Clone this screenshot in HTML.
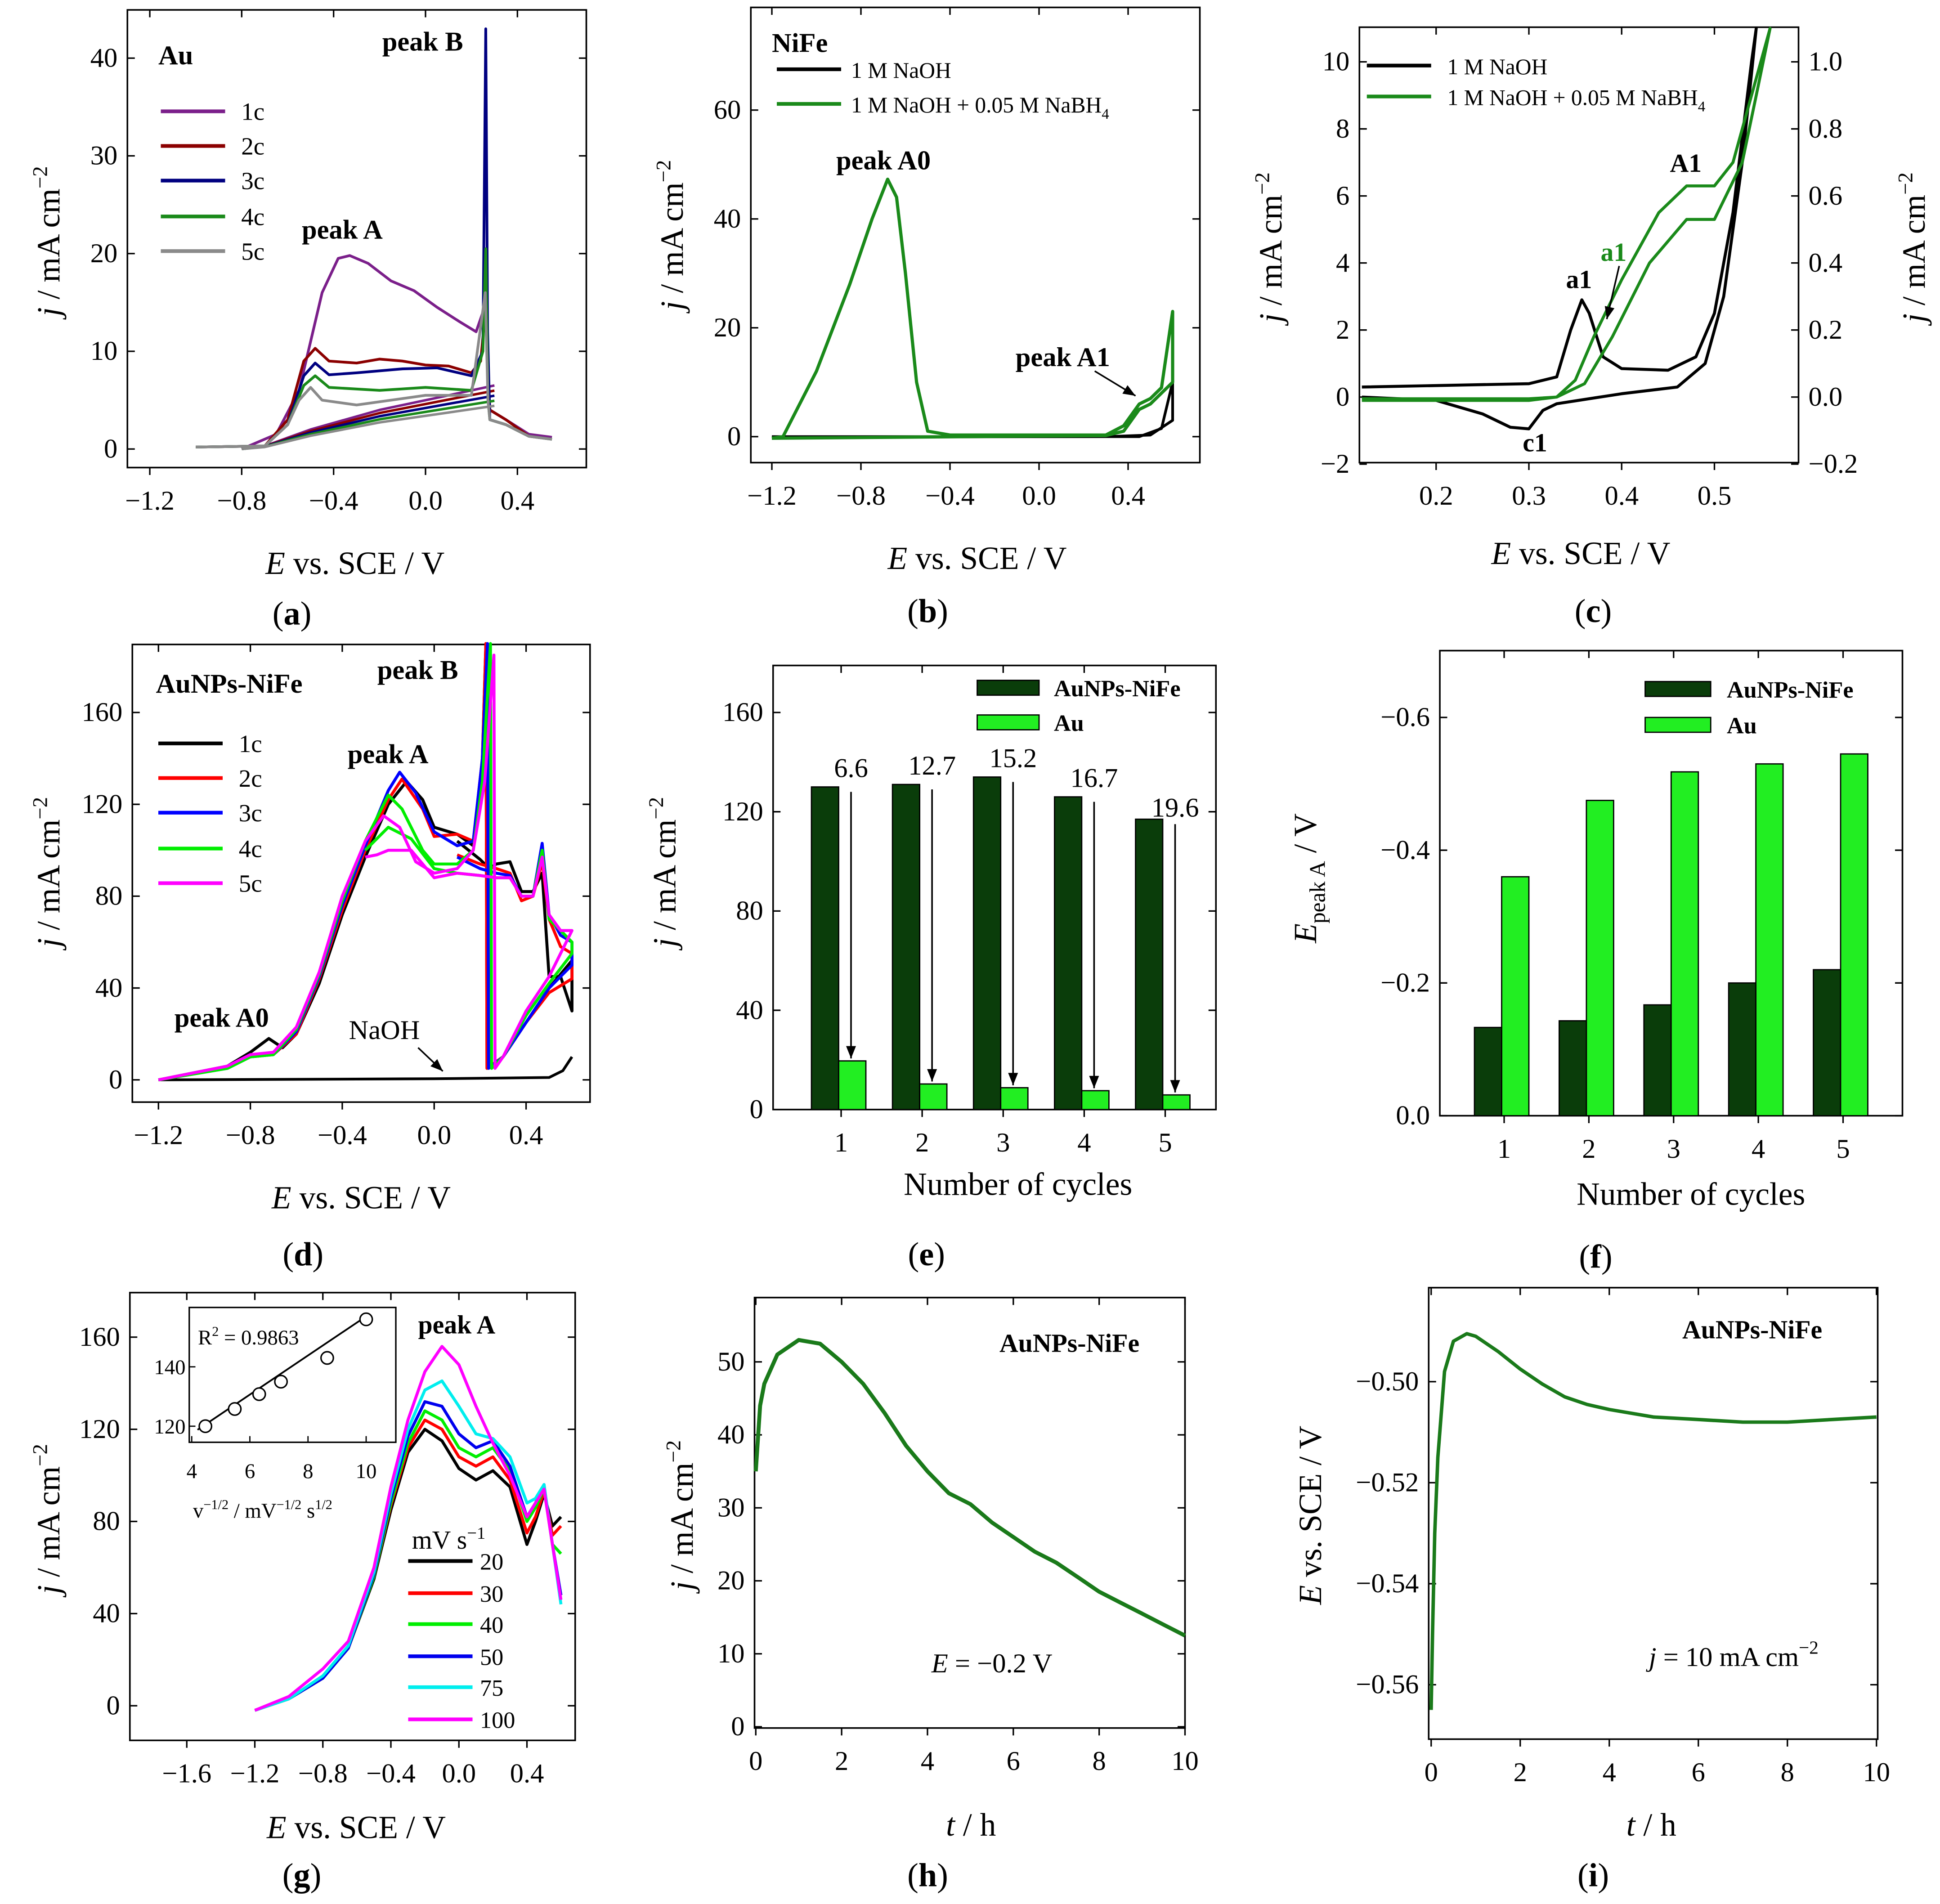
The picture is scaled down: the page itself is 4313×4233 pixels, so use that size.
<!DOCTYPE html>
<html><head><meta charset="utf-8"><style>
html,body{margin:0;padding:0;background:#fff;}
svg{display:block;font-family:"Liberation Serif",serif;}
</style></head><body>
<svg id="fig" xmlns="http://www.w3.org/2000/svg" width="4313" height="4233" viewBox="0 0 1568.36 1539.27"></svg>
<script>
// ===== DATA =====
const aC1=[[-0.8,0],[-0.65,1.5],[-0.55,6],[-0.5,11],[-0.45,16],[-0.38,19.5],[-0.33,19.8],[-0.25,19],[-0.15,17.2],[-0.05,16.2],[0.05,14.5],[0.15,13],[0.22,12],[0.25,14],[0.262,16.5],[0.272,8],[0.28,4],[0.35,3],[0.45,1.5],[0.55,1.2]];
const aC2=[[-1.0,0.2],[-0.7,0.3],[-0.6,3],[-0.53,9],[-0.48,10.3],[-0.42,9],[-0.3,8.8],[-0.2,9.2],[-0.1,9],[0,8.6],[0.1,8.5],[0.2,7.8],[0.24,9],[0.26,14],[0.27,9],[0.28,4],[0.35,3],[0.45,1.3],[0.55,1]];
const aC3=[[-1.0,0.2],[-0.7,0.3],[-0.6,2.5],[-0.53,7.5],[-0.48,8.8],[-0.42,7.6],[-0.3,7.8],[-0.1,8.2],[0.05,8.3],[0.2,7.5],[0.25,10],[0.262,43],[0.27,12],[0.28,3],[0.35,2.5],[0.45,1.3],[0.55,1]];
const aC4=[[-1.0,0.2],[-0.7,0.3],[-0.6,2.5],[-0.53,6.5],[-0.48,7.5],[-0.42,6.3],[-0.2,6],[0,6.3],[0.2,6],[0.25,10],[0.262,20.5],[0.272,5],[0.28,3],[0.35,2.5],[0.45,1.3],[0.55,1]];
const aC5=[[-1.0,0.2],[-0.7,0.3],[-0.6,2.5],[-0.55,5],[-0.5,6.3],[-0.45,5],[-0.3,4.5],[0,5.5],[0.2,5.5],[0.26,16],[0.272,5],[0.28,3],[0.35,2.5],[0.45,1.3],[0.55,1]];
const aRev=[[0.3,6.5],[0.1,5.5],[-0.2,4],[-0.5,2],[-0.7,0.3],[-0.8,0]];
const bGreen=[[-1.2,-0.3],[-1.15,0],[-1.0,12],[-0.85,28],[-0.75,40],[-0.68,47.3],[-0.64,44],[-0.6,30],[-0.55,10],[-0.5,1],[-0.4,0.3],[0.3,0.3],[0.38,2],[0.45,6],[0.5,7],[0.55,9],[0.6,23],[0.6,10],[0.5,6],[0.45,5],[0.38,1],[0.3,0.2],[-1.2,-0.3]];
const bBlack=[[-1.2,0],[0.45,0],[0.55,1.5],[0.6,10],[0.6,3],[0.5,0.3],[0.3,0],[-1.2,-0.1]];
const cBlack=[[0.12,0.3],[0.3,0.4],[0.33,0.6],[0.345,2],[0.357,2.9],[0.365,2.5],[0.38,1.2],[0.4,0.85],[0.45,0.8],[0.48,1.2],[0.5,2.5],[0.52,5.5],[0.54,10],[0.545,11],[0.53,7],[0.51,3],[0.49,1],[0.46,0.3],[0.4,0.1],[0.33,-0.2],[0.315,-0.4],[0.3,-0.95],[0.28,-0.9],[0.25,-0.5],[0.2,-0.1],[0.12,0]];
const cGreen=[[0.12,-0.05],[0.3,-0.05],[0.33,0],[0.35,0.5],[0.37,1.8],[0.4,3.5],[0.44,5.5],[0.47,6.3],[0.5,6.3],[0.52,7],[0.54,9],[0.56,11],[0.545,9],[0.53,7],[0.5,5.3],[0.47,5.3],[0.43,4],[0.39,1.8],[0.36,0.4],[0.33,0],[0.3,-0.1],[0.12,-0.1]];
const dC1=[[-1.2,0],[-0.9,6],[-0.8,12],[-0.72,18],[-0.66,14],[-0.6,20],[-0.5,42],[-0.4,72],[-0.3,97],[-0.2,120],[-0.12,130],[-0.05,122],[0,110],[0.1,107],[0.17,102],[0.21,140],[0.225,190],[0.23,5],[0.3,10],[0.4,25],[0.5,40],[0.6,52],[0.6,30],[0.55,45],[0.5,45],[0.47,90],[0.43,82],[0.38,82],[0.33,95],[0.27,94],[0.24,92],[0.2,96],[0.1,104]];
const dC2=[[-1.2,0],[-0.9,5],[-0.8,10],[-0.7,11],[-0.6,20],[-0.5,44],[-0.4,74],[-0.3,100],[-0.2,122],[-0.14,131],[-0.05,118],[0,106],[0.1,107],[0.17,104],[0.21,140],[0.225,190],[0.23,5],[0.3,10],[0.4,25],[0.5,38],[0.6,44],[0.6,55],[0.55,58],[0.5,70],[0.47,95],[0.43,80],[0.38,78],[0.33,90],[0.27,92],[0.2,94],[0.1,98]];
const dC3=[[-1.2,0],[-0.9,5],[-0.8,10],[-0.7,11],[-0.6,21],[-0.5,45],[-0.4,76],[-0.3,102],[-0.2,126],[-0.15,134],[-0.08,125],[0,108],[0.1,102],[0.17,104],[0.21,140],[0.232,190],[0.237,5],[0.3,10],[0.4,25],[0.5,40],[0.6,50],[0.6,60],[0.55,63],[0.5,72],[0.47,103],[0.43,80],[0.38,80],[0.33,89],[0.27,90],[0.2,92],[0.1,97]];
const dC4=[[-1.2,0],[-0.9,5],[-0.8,10],[-0.7,11],[-0.6,22],[-0.5,46],[-0.4,78],[-0.3,104],[-0.2,124],[-0.14,118],[-0.05,100],[0,94],[0.1,94],[0.17,100],[0.21,130],[0.245,190],[0.25,5],[0.3,10],[0.4,28],[0.5,42],[0.6,55],[0.6,60],[0.55,65],[0.5,70],[0.47,100],[0.43,80],[0.38,80],[0.33,88],[0.27,88],[0.2,89],[0.1,90],[0,92],[-0.1,105],[-0.2,110],[-0.3,100]];
const dC5=[[-1.2,0],[-0.9,6],[-0.8,11],[-0.7,12],[-0.6,23],[-0.5,47],[-0.4,80],[-0.3,104],[-0.22,115],[-0.15,110],[-0.08,95],[0,90],[0.1,92],[0.17,100],[0.22,130],[0.26,185],[0.265,5],[0.3,10],[0.4,30],[0.5,45],[0.6,65],[0.6,65],[0.55,65],[0.5,72],[0.47,97],[0.43,80],[0.38,80],[0.33,88],[0.27,88],[0.2,89],[0.1,90],[0,88],[-0.1,100],[-0.2,100],[-0.25,98],[-0.3,97]];
const dNaOH=[[-1.2,0],[0.0,0.5],[0.5,1],[0.56,4],[0.6,10]];
const eCats=['1','2','3','4','5'];
const eNiFe=[130,131,134,126,117];
const eAu=[19.6,10.3,8.8,7.6,5.9];
const eRatio=['6.6','12.7','15.2','16.7','19.6'];
const fCats=['1','2','3','4','5'];
const fNiFe=[-0.133,-0.143,-0.167,-0.2,-0.22];
const fAu=[-0.36,-0.475,-0.518,-0.53,-0.545];
const gRates=['20','30','40','50','75','100'];
const gColors=['#000','#f00','#0e0','#00e','#0ee','#f0f'];
const g20=[[-1.2,-2],[-1.0,3],[-0.8,12],[-0.65,25],[-0.5,55],[-0.4,85],[-0.3,110],[-0.2,120],[-0.1,115],[0,103],[0.1,98],[0.2,102],[0.3,95],[0.4,70],[0.45,80],[0.5,92],[0.55,78],[0.6,82]];
const g30=[[-1.2,-2],[-1.0,3],[-0.8,12],[-0.65,25],[-0.5,56],[-0.4,87],[-0.3,112],[-0.2,124],[-0.1,120],[0,108],[0.1,104],[0.2,108],[0.3,98],[0.4,75],[0.45,82],[0.5,93],[0.55,74],[0.6,78]];
const g40=[[-1.2,-2],[-1.0,3],[-0.8,12],[-0.65,25],[-0.5,56],[-0.4,88],[-0.3,114],[-0.2,128],[-0.1,124],[0,112],[0.1,108],[0.2,112],[0.3,102],[0.4,80],[0.45,86],[0.5,94],[0.55,70],[0.6,66]];
const g50=[[-1.2,-2],[-1.0,3],[-0.8,12],[-0.65,25],[-0.5,57],[-0.4,90],[-0.3,117],[-0.2,132],[-0.1,130],[0,118],[0.1,112],[0.2,115],[0.3,104],[0.4,82],[0.45,88],[0.5,96],[0.55,70],[0.6,48]];
const g75=[[-1.2,-2],[-1.0,3],[-0.8,13],[-0.65,26],[-0.5,58],[-0.4,92],[-0.3,120],[-0.2,137],[-0.1,141],[0,130],[0.1,118],[0.2,116],[0.3,108],[0.4,88],[0.45,90],[0.5,96],[0.55,70],[0.6,44]];
const g100=[[-1.2,-2],[-1.0,4],[-0.8,16],[-0.65,28],[-0.5,60],[-0.4,95],[-0.3,124],[-0.2,145],[-0.1,156],[0,148],[0.1,130],[0.2,114],[0.3,100],[0.4,82],[0.45,88],[0.5,94],[0.55,70],[0.6,46]];
const gInsetX=[4.47,5.48,6.32,7.07,8.66,10.0];
const gInsetY=[120,125.8,130.8,135,143,156];
const hT=[0,0.1,0.2,0.5,1,1.5,2,2.5,3,3.5,4,4.5,5,5.5,6,6.5,7,7.5,8,8.5,9,9.5,10];
const hJ=[35,44,47,51,53,52.5,50,47,43,38.5,35,32,30.5,28,26,24,22.5,20.5,18.5,17,15.5,14,12.5];
const iT=[0,0.03,0.08,0.15,0.3,0.5,0.8,1,1.5,2,2.5,3,3.5,4,5,6,7,8,9,10];
const iE=[-0.565,-0.55,-0.53,-0.515,-0.498,-0.492,-0.4905,-0.491,-0.494,-0.4975,-0.5005,-0.503,-0.5045,-0.5055,-0.507,-0.5075,-0.508,-0.508,-0.5075,-0.507];

// ===== HELPERS =====
const NS='http://www.w3.org/2000/svg';
const svg=document.getElementById('fig');
function E(tag,a,p){const e=document.createElementNS(NS,tag);for(const k in a)e.setAttribute(k,a[k]);(p||svg).appendChild(e);return e;}
function lin(d0,d1,p0,p1){return v=>p0+(v-d0)*(p1-p0)/(d1-d0);}
function fmt(v,d){const s=Math.abs(v).toFixed(d);return (v<-1e-9?'\u2212':'')+s;}
function txt(x,y,s,size,anchor,weight,fill){const t=E('text',{x:x,y:y,'font-size':size,'text-anchor':anchor||'start','font-weight':weight||'normal',fill:fill||'#000'});t.textContent=s;return t;}
function axes(P){
  const [x0,y0,x1,y1]=P.box;
  const g=E('g',{});
  
  
  E('rect',{x:x0,y:y0,width:x1-x0,height:y1-y0,fill:'none',stroke:'#000','stroke-width':1.3},g);
  (P.xticks||[]).forEach(v=>{const x=P.xs(v);
    E('line',{x1:x,y1:y1,x2:x,y2:y1+6,stroke:'#000','stroke-width':1.2},g);
    E('line',{x1:x,y1:y0,x2:x,y2:y0+6,stroke:'#000','stroke-width':1.2},g);
    const t=txt(x,y1+34,P.xf?P.xf(v):fmt(v,1),22,'middle');g.appendChild(t);
    
    
  });
  (P.yticks||[]).forEach(v=>{const y=P.ys(v);
    E('line',{x1:x0,y1:y,x2:x0+6,y2:y,stroke:'#000','stroke-width':1.2},g);
    E('line',{x1:x1,y1:y,x2:x1-6,y2:y,stroke:'#000','stroke-width':1.2},g);
    const t=txt(x0-8,y+7,P.yf?P.yf(v):fmt(v,0),22,'end');g.appendChild(t);
    
    
  });
  return g;
}
function line(pts,xs,ys,color,w,name){
  const d=pts.map((p,i)=>(i?'L':'M')+xs(p[0]).toFixed(1)+','+ys(p[1]).toFixed(1)).join('');
  const e=E('path',{d:d,fill:'none',stroke:color,'stroke-width':w||2.2,'stroke-linejoin':'round'});
  
  
  return e;
}
function legLine(x,y,color,label,lx,size){
  const l=E('line',{x1:x,y1:y,x2:x+52,y2:y,stroke:color,'stroke-width':3});
  
  
  const t=txt(lx,y+7,label,size||20,'start');
  
  
}
function ytitle(x,y,html){const t=E('text',{x:0,y:0,'font-size':26,'text-anchor':'middle',transform:`translate(${x},${y}) rotate(-90)`});t.innerHTML=html;return t;}
function xtitle(x,y,html){const t=E('text',{x:x,y:y,'font-size':26,'text-anchor':'middle'});t.innerHTML=html;return t;}
function plabel(x,y,s){const t=txt(x,y,s,27,'middle');t.innerHTML='(<tspan font-weight="bold">'+s+'</tspan>)';}
function note(x,y,s,size,weight,fill,name){const t=txt(x,y,s,size,'start',weight,fill);return t;}
function arrow(xa,ya,xb,yb){const l=E('line',{x1:xa,y1:ya,x2:xb,y2:yb,stroke:'#000','stroke-width':1.3});
  const a=Math.atan2(yb-ya,xb-xa),L=10,W=4;
  const p=E('polygon',{points:`${xb},${yb} ${xb-L*Math.cos(a)+W*Math.sin(a)},${yb-L*Math.sin(a)-W*Math.cos(a)} ${xb-L*Math.cos(a)-W*Math.sin(a)},${yb-L*Math.sin(a)+W*Math.cos(a)}`,fill:'#000'});
  }
const JT='<tspan font-style="italic">j</tspan> / mA cm<tspan dy="-10" font-size="17">\u22122</tspan>';
const ET='<tspan font-style="italic">E</tspan> vs. SCE / V';
const rng=(a,b,s)=>{const r=[];for(let v=a;v<=b+1e-9;v+=s)r.push(+v.toFixed(4));return r;};

// ===== (a) =====
{const xs=lin(0,0.4,344,418.3),ys=lin(0,40,363,47);
axes({name:'panel-a',box:[103,8,474,378],xs,ys,xticks:rng(-1.2,0.4,0.4),yticks:rng(0,40,10)});
const cols=['#7b1f8a','#8b0000','#000080','#1a8a1a','#8a8a8a'];
[aC1,aC2,aC3,aC4,aC5].forEach((c,i)=>{line(c,xs,ys,cols[i],2.2,'series-'+(i+1)+'c');line(aRev.map(p=>[p[0],p[1]*(1-i*0.08)]),xs,ys,cols[i],2,'series-'+(i+1)+'c-reverse');});
note(128,52,'Au',22,'bold','#000','panel-title');
['1c','2c','3c','4c','5c'].forEach((s,i)=>legLine(130,[90,118,146,175,203][i],cols[i],s,195));
note(309,41,'peak B',22,'bold','#000','peak-b-label');note(244,193,'peak A',22,'bold','#000','peak-a-label');
xtitle(287,464,ET);ytitle(48,195,JT);plabel(236,505,'a');}

// ===== (b) =====
{const xs=lin(0,0.4,840,912),ys=lin(0,60,353,89);
axes({name:'panel-b',box:[607,6,970,374],xs,ys,xticks:rng(-1.2,0.4,0.4),yticks:rng(0,60,20)});
line(bBlack,xs,ys,'#000',2.2,'series-naoh');line(bGreen,xs,ys,'#1a8a1a',2.6,'series-naoh-nabh4');
note(624,42,'NiFe',22,'bold','#000','panel-title');
legLine(628,56,'#000','1 M NaOH',688,18);
legLine(628,84,'#1a8a1a','',688,18);
{const t=note(688,91,'',18,'normal','#000','legend-entry');t.innerHTML='1 M NaOH + 0.05 M NaBH<tspan dy="5" font-size="12">4</tspan>';}
note(676,137,'peak A0',22,'bold','#000','peak-a0-label');note(821,296,'peak A1',22,'bold','#000','peak-a1-label');arrow(885,300,918,320);
xtitle(790,460,ET);ytitle(552,190,JT);plabel(750,503,'b');}

// ===== (c) =====
{const xs=lin(0.2,0.5,1161,1386),ys=lin(0,10,321,50);
axes({name:'panel-c',box:[1099,22,1454,374],xs,ys,xticks:rng(0.2,0.5,0.1),yticks:rng(-2,10,2)});
rng(-0.2,1.0,0.2).forEach(v=>{const t=txt(1462,ys(v*10)+7,fmt(v,1),22,'start');});
line(cBlack,xs,ys,'#000',2.4,'series-naoh');line(cGreen,xs,ys,'#1a8a1a',2.4,'series-naoh-nabh4');
legLine(1105,53,'#000','1 M NaOH',1170,18);legLine(1105,78,'#1a8a1a','',1170,18);
{const t=note(1170,85,'',18,'normal','#000','legend-entry');t.innerHTML='1 M NaOH + 0.05 M NaBH<tspan dy="5" font-size="12">4</tspan>';}
note(1350,139,'A1',21,'bold','#000','peak-a1-label');note(1266,233,'a1',21,'bold','#000','peak-a1-naoh-label');note(1294,211,'a1',21,'bold','#1a8a1a','peak-a1-nabh4-label');note(1231,365,'c1',21,'bold','#000','peak-c1-label');
arrow(1309,215,1299,258);
xtitle(1278,456,ET);ytitle(1036,200,JT);ytitle(1556,200,JT);plabel(1288,503,'c');}

// ===== (d) =====
{const xs=lin(0,0.4,351,425.3),ys=lin(0,160,873,576);
axes({name:'panel-d',box:[107,521,477,891],xs,ys,xticks:rng(-1.2,0.4,0.4),yticks:rng(0,160,40)});
const cols=['#000','#f00','#00f','#0e0','#f0f'];
line(dNaOH,xs,ys,'#000',2.2,'series-naoh');
[dC1,dC2,dC3,dC4,dC5].forEach((c,i)=>line(c,xs,ys,cols[i],2.4,'series-'+(i+1)+'c'));
note(126,560,'AuNPs-NiFe',22,'bold','#000','panel-title');
['1c','2c','3c','4c','5c'].forEach((s,i)=>legLine(128,[601,629,657,686,714][i],cols[i],s,193));
note(305,549,'peak B',22,'bold','#000','peak-b-label');note(281,617,'peak A',22,'bold','#000','peak-a-label');note(141,830,'peak A0',22,'bold','#000','peak-a0-label');note(282,840,'NaOH',22,'normal','#000','naoh-label');arrow(338,847,358,866);
xtitle(292,977,ET);ytitle(48,705,JT);plabel(245,1023,'d');}

// ===== (e) =====
{const xs=lin(1,5,680,942),ys=lin(0,160,897,576);
axes({name:'panel-e',box:[625,538,983,897],xs,ys,xticks:[1,2,3,4,5],xf:v=>eCats[v-1],yticks:rng(0,160,40)});
eCats.forEach((c,i)=>{const cx=xs(i+1);
  const b1=E('rect',{x:cx-24,y:ys(eNiFe[i]),width:22,height:ys(0)-ys(eNiFe[i]),fill:'#0a3d0a',stroke:'#000','stroke-width':1});
  
  const b2=E('rect',{x:cx-2,y:ys(eAu[i]),width:22,height:ys(0)-ys(eAu[i]),fill:'#22ee22',stroke:'#000','stroke-width':1});
  
  const t=txt(cx+8,ys(eNiFe[i])-2-(i===4?0:6),eRatio[i],22,'middle');
  arrow(cx+8,ys(eNiFe[i])+4,cx+8,ys(eAu[i])-2);});
[[556,'#0a3d0a','AuNPs-NiFe'],[584,'#22ee22','Au']].forEach(a=>{const r=E('rect',{x:790,y:a[0]-6,width:50,height:12,fill:a[1],stroke:'#000','stroke-width':1});note(852,a[0]+7,a[2],19,'bold','#000','legend-entry');});
xtitle(823,966,'Number of cycles');ytitle(546,705,JT);plabel(749,1023,'e');}

// ===== (f) =====
{const xs=lin(1,5,1216,1490),ys=lin(0,-0.6,902,580);
axes({name:'panel-f',box:[1164,526,1538,902],xs,ys,xticks:[1,2,3,4,5],xf:v=>fCats[v-1],yticks:[0,-0.2,-0.4,-0.6],yf:v=>fmt(v,1)});
fCats.forEach((c,i)=>{const cx=xs(i+1);
  const b1=E('rect',{x:cx-24,y:ys(fNiFe[i]),width:22,height:ys(0)-ys(fNiFe[i]),fill:'#0a3d0a',stroke:'#000','stroke-width':1});
  
  const b2=E('rect',{x:cx-2,y:ys(fAu[i]),width:22,height:ys(0)-ys(fAu[i]),fill:'#22ee22',stroke:'#000','stroke-width':1});
  });
[[557,'#0a3d0a','AuNPs-NiFe'],[586,'#22ee22','Au']].forEach(a=>{const r=E('rect',{x:1330,y:a[0]-6,width:53,height:12,fill:a[1],stroke:'#000','stroke-width':1});note(1396,a[0]+7,a[2],19,'bold','#000','legend-entry');});
xtitle(1367,974,'Number of cycles');ytitle(1064,710,'<tspan font-style="italic">E</tspan><tspan dy="7" font-size="18">peak A</tspan><tspan dy="-7"> / V</tspan>');plabel(1290,1025,'f');}

// ===== (g) =====
{const xs=lin(0,0.4,371,426),ys=lin(0,160,1379,1081);
axes({name:'panel-g',box:[105,1045,465,1407],xs,ys,xticks:rng(-1.6,0.4,0.4),yticks:rng(0,160,40)});
[g20,g30,g40,g50,g75,g100].forEach((c,i)=>line(c,xs,ys,gColors[i],2.4,'series-'+gRates[i]+'mv'));
note(338,1078,'peak A',21,'bold','#000','peak-a-label');
{const t=note(333,1252,'',21,'normal','#000','legend-title');t.innerHTML='mV s<tspan dy="-8" font-size="14">\u22121</tspan>';}
gRates.forEach((r,i)=>legLine(330,[1262,1288,1313,1339,1364,1390][i],gColors[i],r,388,19));
const ixs=lin(4,10,155,296),iys=lin(120,140,1153,1105);
const ig=E('g',{});
E('rect',{x:153,y:1057,width:167,height:109,fill:'#fff',stroke:'#000','stroke-width':1.2},ig);
[4,6,8,10].forEach(v=>{E('line',{x1:ixs(v),y1:1166,x2:ixs(v),y2:1161,stroke:'#000'},ig);const t=txt(ixs(v),1195,String(v),17,'middle');});
[120,140].forEach(v=>{E('line',{x1:153,y1:iys(v),x2:158,y2:iys(v),stroke:'#000'},ig);const t=txt(150,iys(v)+6,String(v),17,'end');});
const fl=E('line',{x1:ixs(4.2),y1:iys(118.8),x2:ixs(10),y2:iys(157),stroke:'#000','stroke-width':1.4});
gInsetX.forEach((x,i)=>{const c=E('circle',{cx:ixs(x),cy:iys(gInsetY[i]),r:5,fill:'#fff',stroke:'#000','stroke-width':1.2});});
{const t=note(160,1087,'',17,'normal','#000','inset-r2');t.innerHTML='R<tspan dy="-7" font-size="11">2</tspan><tspan dy="7"> = 0.9863</tspan>';}
{const t=note(156,1227,'',17,'normal','#000','inset-x-title');t.innerHTML='v<tspan dy="-7" font-size="11">\u22121/2</tspan><tspan dy="7"> / mV</tspan><tspan dy="-7" font-size="11">\u22121/2</tspan><tspan dy="7"> s</tspan><tspan dy="-7" font-size="11">1/2</tspan>';}
xtitle(288,1486,ET);ytitle(48,1228,JT);plabel(244,1525,'g');}

// ===== (h) =====
{const xs=lin(0,10,611,958),ys=lin(0,50,1396,1101);
axes({name:'panel-h',box:[610,1049,958,1397],xs,ys,xticks:rng(0,10,2),xf:v=>String(v),yticks:rng(0,50,10)});
line(hT.map((t,i)=>[t,hJ[i]]),xs,ys,'#1a7a1a',3.2,'series-current');
note(808,1093,'AuNPs-NiFe',21,'bold','#000','panel-title');
{const t=note(753,1352,'',22,'normal','#000','potential-label');t.innerHTML='<tspan font-style="italic">E</tspan> = \u22120.2 V';}
xtitle(785,1484,'<tspan font-style="italic">t</tspan> / h');ytitle(560,1225,JT);plabel(750,1525,'h');}

// ===== (i) =====
{const xs=lin(0,10,1157,1517),ys=lin(-0.5,-0.56,1117,1362);
axes({name:'panel-i',box:[1155,1041,1518,1406],xs,ys,xticks:rng(0,10,2),xf:v=>String(v),yticks:[-0.56,-0.54,-0.52,-0.5],yf:v=>fmt(v,2)});
line(iT.map((t,i)=>[t,iE[i]]),xs,ys,'#1a7a1a',2.8,'series-potential');
note(1360,1082,'AuNPs-NiFe',21,'bold','#000','panel-title');
{const t=note(1333,1347,'',22,'normal','#000','current-label');t.innerHTML='<tspan font-style="italic">j</tspan> = 10 mA cm<tspan dy="-10" font-size="15">\u22122</tspan>';}
xtitle(1335,1484,'<tspan font-style="italic">t</tspan> / h');ytitle(1068,1225,ET);plabel(1288,1525,'i');}
</script>
</body></html>
